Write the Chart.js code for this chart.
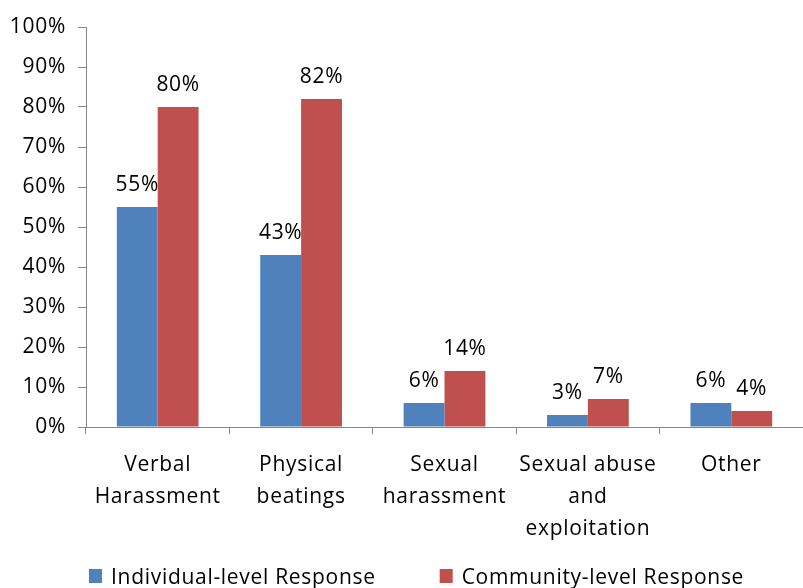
<!DOCTYPE html>
<html lang="en-US">
<head>
	<meta charset="utf-8">
	<title>Response by type of violence</title>
	<script src="https://cdn.jsdelivr.net/npm/chart.js@4.4.1/dist/chart.umd.min.js"></script>
	<style>
		html, body { margin: 0; padding: 0; background: #fff; overflow: hidden; }
	</style>
</head>
<body>
	<canvas id="chart-0" width="803" height="588"></canvas>

	<script>
		var categories = [
			['Verbal', 'Harassment'],
			['Physical', 'beatings'],
			['Sexual', 'harassment'],
			['Sexual abuse', 'and', 'exploitation'],
			'Other'
		];
		var individual = [55, 43, 6, 3, 6];
		var community = [80, 82, 14, 7, 4];
		var yTicks = [0, 10, 20, 30, 40, 50, 60, 70, 80, 90, 100];

		var FONT = { family: '"Open Sans", sans-serif', size: 21 };
		var SPACING = '0.7px';
		var AXIS = '#868686';

		function spacing(chart) {
			chart.ctx.letterSpacing = SPACING;
		}

		// value labels above the bars
		var barLabels = {
			id: 'barLabels',
			afterDatasetsDraw: function(chart) {
				var ctx = chart.ctx;
				ctx.save();
				ctx.letterSpacing = SPACING;
				ctx.font = FONT.size + 'px ' + FONT.family;
				ctx.fillStyle = '#000';
				ctx.textAlign = 'center';
				ctx.textBaseline = 'alphabetic';
				chart.data.datasets.forEach(function(ds, i) {
					chart.getDatasetMeta(i).data.forEach(function(bar, j) {
						ctx.fillText(ds.data[j] + '%', bar.x, bar.y - 16);
					});
				});
				ctx.restore();
			}
		};

		// legend drawn by hand so the spacing matches
		var bottomLegend = {
			id: 'bottomLegend',
			afterDraw: function(chart) {
				var ctx = chart.ctx;
				ctx.save();
				ctx.letterSpacing = SPACING;
				ctx.font = FONT.size + 'px ' + FONT.family;
				ctx.textBaseline = 'alphabetic';
				ctx.textAlign = 'left';
				var x = 89;
				chart.data.datasets.forEach(function(ds) {
					ctx.fillStyle = ds.backgroundColor;
					ctx.fillRect(x, 569, 13, 14);
					ctx.fillStyle = '#000';
					ctx.fillText(ds.label, x + 22, 584);
					x += 22 + ctx.measureText(ds.label).width + 64;
				});
				ctx.restore();
			}
		};

		var letterSpacingPlugin = {
			id: 'letterSpacing',
			beforeLayout: spacing,
			beforeDraw: spacing
		};

		var data = {
			labels: categories,
			datasets: [{
				label: 'Individual-level Response',
				data: individual,
				backgroundColor: '#4F81BD'
			}, {
				label: 'Community-level Response',
				data: community,
				backgroundColor: '#C0504D'
			}]
		};

		var options = {
			responsive: false,
			animation: false,
			layout: { padding: { top: 27, right: 0, bottom: 0, left: 0 } },
			datasets: {
				bar: { categoryPercentage: 0.57, barPercentage: 1.0 }
			},
			plugins: {
				legend: { display: false },
				tooltip: { enabled: false }
			},
			scales: {
				x: {
					grid: { offset: true, drawOnChartArea: false, tickLength: 7, color: AXIS },
					border: { color: AXIS },
					ticks: {
						color: '#000',
						font: Object.assign({ lineHeight: '32px' }, FONT),
						padding: 15,
						maxRotation: 0,
						autoSkip: false
					},
					afterFit: function(s) { s.height = 161; }
				},
				y: {
					min: 0,
					max: 100,
					afterBuildTicks: function(s) {
						s.ticks = yTicks.map(function(v) { return { value: v }; });
					},
					grid: { drawOnChartArea: false, tickLength: 8, color: AXIS },
					border: { color: AXIS },
					ticks: {
						color: '#000',
						font: FONT,
						padding: 12,
						callback: function(v) { return v + '%'; }
					},
					afterFit: function(s) { s.width = 86; }
				}
			}
		};

		var chart = new Chart('chart-0', {
			type: 'bar',
			data: data,
			options: options,
			plugins: [letterSpacingPlugin, barLabels, bottomLegend]
		});
	</script>
</body>
</html>
